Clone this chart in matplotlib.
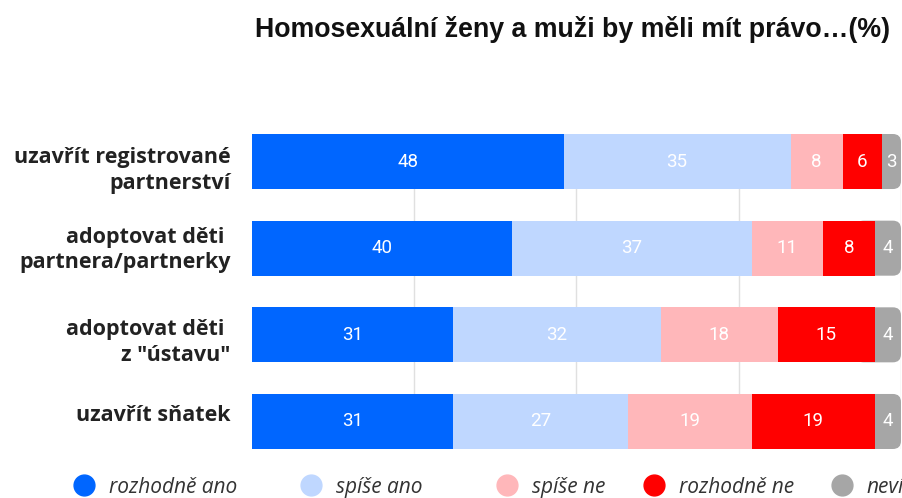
import matplotlib.pyplot as plt
import numpy as np
import matplotlib.transforms as mtransforms
from matplotlib.patches import FancyBboxPatch
from matplotlib.lines import Line2D

categories = ['uzavřít registrované\npartnerství', 'adoptovat děti \npartnera/partnerky',
              'adoptovat děti \nz "ústavu"', 'uzavřít sňatek']
series = ['rozhodně ano', 'spíše ano', 'spíše ne', 'rozhodně ne', 'neví']
rozhodne_ano = [48, 40, 31, 31]
spise_ano = [35, 37, 32, 27]
spise_ne = [8, 11, 18, 19]
rozhodne_ne = [6, 8, 15, 19]
nevi = [3, 4, 4, 4]
colors = ['#0066ff', '#bfd7ff', '#ffb7ba', '#ff0000', '#a6a6a6']

title = 'Homosexuální ženy a muži by měli mít právo…(%)'

fig = plt.figure(figsize=(9.03, 4.98), dpi=100)
ax = fig.add_axes([252/903, 1-449/498, 649/903, 315/498])

data = [rozhodne_ano, spise_ano, spise_ne, rozhodne_ne, nevi]
y = np.arange(len(categories))
left = np.zeros(len(categories))
h = 0.635
for i, vals in enumerate(data):
	vals = np.array(vals, dtype=float)
	bars = ax.barh(y, vals, left=left, height=h, color=colors[i], zorder=3 if i < 4 else 2)
	if i == 4:
		# rounded right end for the last segment
		for r in bars:
			r.set_visible(False)
			p = FancyBboxPatch((r.get_x()-3, r.get_y()), r.get_width()+3, r.get_height(),
				boxstyle='round,pad=0,rounding_size=1.25', mutation_aspect=0.075,
				facecolor=colors[i], edgecolor='none', zorder=2)
			ax.add_patch(p)
	for j in range(len(y)):
		ax.text(left[j] + vals[j]/2, y[j], '%d' % vals[j], ha='center', va='center',
			color='white', fontsize=13.5, family='Roboto', zorder=5)
	left += vals

ax.set_xlim(0, 100)
ax.set_ylim(3 + h/2, -h/2)
ax.set_xticks([25, 50, 75, 100])
ax.xaxis.grid(True, color='#e0e0e0', linewidth=1, zorder=0)
ax.tick_params(axis='x', length=0, labelbottom=False)
ax.tick_params(axis='y', length=0, pad=15.5)
ax.set_yticks(y)
ax.set_yticklabels(categories, fontsize=15.5, fontweight='bold', family='Open Sans',
	color='#222222', linespacing=1.3)
# small vertical nudges of the labels (px, positive = up)
nudge = [-4, 3, -3, 8]
for t, d in zip(ax.get_yticklabels(), nudge):
	t.set_transform(t.get_transform() + mtransforms.ScaledTranslation(0, d/100, fig.dpi_scale_trans))
for s in ax.spines.values():
	s.set_visible(False)

fig.text(573/903, 1-29/498, title, ha='center', va='center', fontsize=19.3,
	fontweight='bold', family='Liberation Sans', color='#111111')

leg_x = [85, 312, 508, 655, 843]
for i, name in enumerate(series):
	hnd = Line2D([], [], marker='o', linestyle='none', markersize=15,
		markerfacecolor=colors[i], markeredgecolor=colors[i])
	lg = fig.legend([hnd], [name], loc='center left',
		bbox_to_anchor=((leg_x[i]-22)/903, 1-487/498), frameon=False,
		handletextpad=0.2, borderaxespad=0, borderpad=0,
		prop={'family': 'Open Sans', 'style': 'italic', 'size': 15})
	for t in lg.get_texts():
		t.set_color('#333333')

fig.savefig('out.png', dpi=100)
